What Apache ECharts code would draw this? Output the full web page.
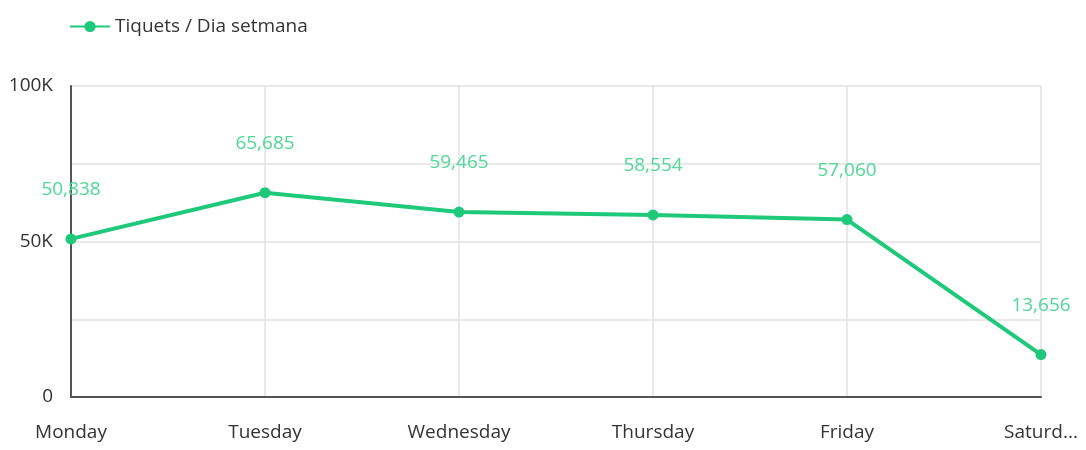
<!DOCTYPE html>
<html>
<head>
<meta charset="utf-8">
<script src="https://cdn.jsdelivr.net/npm/echarts@6/dist/echarts.min.js"></script>
<style>
html, body { margin: 0; padding: 0; background: #fff; }
#chart { width: 1086px; height: 450px; }
</style>
</head>
<body>
<div id="chart"></div>
<script>
var seriesName = 'Tiquets / Dia setmana';
var days = ['Monday', 'Tuesday', 'Wednesday', 'Thursday', 'Friday', 'Saturday'];
var tickets = [50838, 65685, 59465, 58554, 57060, 13656];

var lineColor = '#1ec97a';

var myChart = echarts.init(document.getElementById('chart'));
var option = {
    textStyle: { fontFamily: 'Open Sans' },
    legend: {
        left: 64,
        top: 12,
        itemWidth: 40,
        itemHeight: 14,
        itemGap: 6,
        textStyle: { fontSize: 19, color: '#333', fontFamily: 'Open Sans' },
        data: [seriesName]
    },
    grid: { left: 71, right: 45, top: 86, bottom: 53 },
    xAxis: {
        type: 'category',
        data: days,
        boundaryGap: false,
        axisLine: { lineStyle: { color: '#555', width: 2 } },
        axisTick: { show: false },
        splitLine: { show: true, lineStyle: { color: '#e2e2e2', width: 1.5 } },
        axisLabel: {
            color: '#333',
            fontSize: 19,
            margin: 26,
            formatter: function (v, i) {
                // last label is cut off at the right edge
                if (i === days.length - 1) return v.slice(0, 6) + '...';
                return v;
            }
        }
    },
    yAxis: {
        type: 'value',
        min: 0,
        max: 100000,
        interval: 25000,
        axisLine: { show: true, lineStyle: { color: '#555', width: 2 } },
        axisTick: { show: false },
        splitLine: { lineStyle: { color: '#e2e2e2', width: 1.5 } },
        axisLabel: {
            color: '#333',
            fontSize: 19,
            margin: 18,
            formatter: function (v) {
                if (v === 0) return '0';
                if (v % 50000 !== 0) return '';
                return (v / 1000) + 'K';
            }
        }
    },
    series: [{
        name: seriesName,
        type: 'line',
        data: tickets,
        color: lineColor,
        symbol: 'circle',
        symbolSize: 11,
        lineStyle: { width: 4, color: lineColor },
        itemStyle: { color: lineColor },
        label: {
            show: true,
            position: 'top',
            distance: 34,
            color: '#4fd896',
            fontSize: 19,
            formatter: function (p) {
                return p.value.toLocaleString('en-US');
            }
        }
    }]
};
myChart.setOption(option);
</script>
</body>
</html>
